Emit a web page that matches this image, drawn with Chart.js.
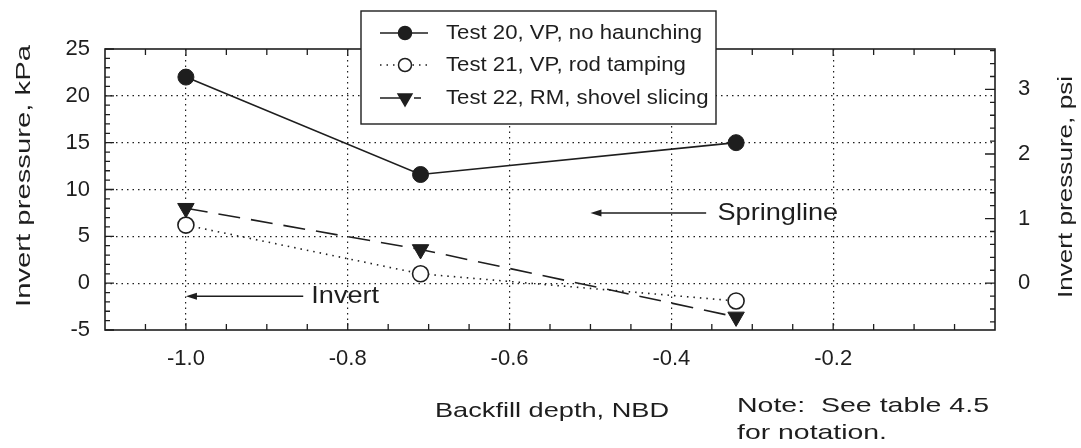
<!DOCTYPE html>
<html><head><meta charset="utf-8">
<script src="https://cdn.jsdelivr.net/npm/chart.js@4.4.0/dist/chart.umd.min.js"></script>
<style>html,body{margin:0;padding:0;background:#fff;}canvas{display:block;}</style>
</head><body>
<canvas id="c" width="1081" height="448"></canvas>
<script>
// ---- data ----
const seriesNames = ['Test 20, VP, no haunching', 'Test 21, VP, rod tamping', 'Test 22, RM, shovel slicing'];
const depth  = [-1.0, -0.71, -0.32];
const test20 = [22.0, 11.6, 15.0];
const test21 = [6.2, 1.0, -1.9];
const test22 = [8.0, 3.6, -3.6];
const xTicks  = [-1.0, -0.8, -0.6, -0.4, -0.2];
const yTicks  = [-5, 0, 5, 10, 15, 20, 25];
const y2Ticks = [0, 1, 2, 3];
const KPA_PER_PSI = 6.895;
const xTitle  = 'Backfill depth, NBD';
const yTitle  = 'Invert pressure, kPa';
const y2Title = 'Invert pressure, psi';
const noteLines = ['Note:  See table 4.5', 'for notation.'];
const callouts = [
  { text: 'Springline', tip: [-0.50, 7.5], tail: [-0.357, 7.5], textX: -0.343 },
  { text: 'Invert',     tip: [-1.00, -1.4], tail: [-0.855, -1.4], textX: -0.845 }
];

const INK = '#1e1e1e';
const FAM = '"Liberation Sans", Arial, Helvetica, sans-serif';

function sText(ctx, txt, x, y, size, opt) {
  opt = opt || {};
  ctx.save();
  ctx.font = size + 'px ' + FAM;
  const w = ctx.measureText(txt).width;
  const sx = opt.width ? opt.width / w : (opt.stretch || 1);
  ctx.translate(x, y);
  if (opt.rot) ctx.rotate(opt.rot);
  ctx.scale(sx, 1);
  ctx.textAlign = opt.align || 'left';
  ctx.textBaseline = 'middle';
  ctx.fillStyle = INK;
  ctx.fillText(txt, 0, 0);
  ctx.restore();
}

function drawMarker(ctx, style, x, y, r, fill) {
  ctx.save();
  ctx.beginPath();
  if (style === 'triangle') {
    ctx.moveTo(x, y + r);
    ctx.lineTo(x - r * 0.866, y - r / 2);
    ctx.lineTo(x + r * 0.866, y - r / 2);
    ctx.closePath();
  } else {
    ctx.arc(x, y, r, 0, Math.PI * 2);
  }
  ctx.fillStyle = fill;
  ctx.fill();
  ctx.lineWidth = 1.5;
  ctx.strokeStyle = INK;
  ctx.stroke();
  ctx.restore();
}

const decor = {
  id: 'decor',
  afterDatasetsDraw(chart) {
    const ctx = chart.ctx, ca = chart.chartArea;
    const sx = chart.scales.x, sy = chart.scales.y, sy2 = chart.scales.y2;
    ctx.save();
    ctx.strokeStyle = INK;
    // frame
    ctx.lineWidth = 1.6;
    ctx.strokeRect(ca.left, ca.top, ca.right - ca.left, ca.bottom - ca.top);
    // inward ticks
    ctx.lineWidth = 1.3;
    ctx.beginPath();
    for (let i = -5; i <= 25; i++) {
      const p = sy.getPixelForValue(i);
      const len = (i % 5 === 0) ? 9 : 5;
      ctx.moveTo(ca.left, p); ctx.lineTo(ca.left + len, p);
    }
    for (let i = -3; i <= 18; i++) {
      const p = sy2.getPixelForValue(i * 0.2);
      const len = (i % 5 === 0) ? 10 : 5;
      ctx.moveTo(ca.right, p); ctx.lineTo(ca.right - len, p);
    }
    for (let i = -21; i <= -1; i++) {
      const p = sx.getPixelForValue(i * 0.05);
      const len = (i % 4 === 0) ? 7 : 6;
      ctx.moveTo(p, ca.bottom); ctx.lineTo(p, ca.bottom - len);
      ctx.moveTo(p, ca.top); ctx.lineTo(p, ca.top + len);
    }
    ctx.stroke();
    // callouts
    callouts.forEach(c => {
      const tx = sx.getPixelForValue(c.tip[0]), ty = sy.getPixelForValue(c.tip[1]);
      const ex = sx.getPixelForValue(c.tail[0]);
      ctx.lineWidth = 1.5;
      ctx.beginPath(); ctx.moveTo(tx + 6, ty); ctx.lineTo(ex, ty); ctx.stroke();
      ctx.beginPath();
      ctx.moveTo(tx, ty); ctx.lineTo(tx + 11, ty - 3.5); ctx.lineTo(tx + 11, ty + 3.5); ctx.closePath();
      ctx.fillStyle = INK; ctx.fill();
      sText(ctx, c.text, sx.getPixelForValue(c.textX), ty, 24, { stretch: 1.13 });
    });
    ctx.restore();
  },
  afterDraw(chart) {
    const ctx = chart.ctx;
    // axis titles and note
    sText(ctx, yTitle, 24, 176, 20, { width: 262, rot: -Math.PI / 2, align: 'center' });
    sText(ctx, y2Title, 1066, 187, 20, { width: 222, rot: -Math.PI / 2, align: 'center' });
    sText(ctx, xTitle, 435, 411, 21, { width: 234 });
    sText(ctx, noteLines[0], 737, 406, 21, { width: 252 });
    sText(ctx, noteLines[1], 737, 433, 21, { width: 150 });
    // legend box
    const bx = 361, by = 11, bw = 355, bh = 113;
    ctx.save();
    ctx.fillStyle = '#fff';
    ctx.fillRect(bx, by, bw, bh);
    ctx.strokeStyle = INK; ctx.lineWidth = 1.4;
    ctx.strokeRect(bx, by, bw, bh);
    const rowsY = [33, 65, 98];
    const ds = chart.data.datasets;
    ctx.font = '20px ' + FAM;
    const base = ctx.measureText(ds[0].label).width;
    const stretch = 256 / base;
    ds.forEach((d, i) => {
      const y = rowsY[i];
      ctx.save();
      ctx.strokeStyle = INK; ctx.lineWidth = 1.6;
      if (i === 2) ctx.setLineDash([20, 14, 7, 60]);
      else ctx.setLineDash(d.borderDash || []);
      ctx.beginPath(); ctx.moveTo(380, y); ctx.lineTo(428, y); ctx.stroke();
      ctx.restore();
      drawMarker(ctx, d.pointStyle, 405, y, i === 2 ? 8 : 6.5, d.pointBackgroundColor);
      sText(ctx, d.label, 446, y, 20, { stretch: stretch });
    });
    ctx.restore();
  }
};

const mk = arr => depth.map((x, i) => ({ x: x, y: arr[i] }));
const gridDash = [1.5, 4];
const tickFont = { family: FAM, size: 22 };

new Chart(document.getElementById('c'), {
  type: 'line',
  data: {
    datasets: [
      { label: seriesNames[0], data: mk(test20), borderColor: INK, borderWidth: 1.6,
        pointStyle: 'circle', pointRadius: 8, pointBackgroundColor: INK, pointBorderColor: INK, pointBorderWidth: 1 },
      { label: seriesNames[1], data: mk(test21), borderColor: INK, borderWidth: 1.6, borderDash: [1.5, 5],
        pointStyle: 'circle', pointRadius: 8, pointBackgroundColor: '#fff', pointBorderColor: INK, pointBorderWidth: 1.6 },
      { label: seriesNames[2], data: mk(test22), borderColor: INK, borderWidth: 1.6, borderDash: [22, 11],
        pointStyle: 'triangle', pointRotation: 180, pointRadius: 9.5, pointBackgroundColor: INK, pointBorderColor: INK, pointBorderWidth: 1 }
    ]
  },
  options: {
    responsive: false, animation: false, devicePixelRatio: 1,
    layout: { padding: { top: 49, left: 0, right: 0, bottom: 0 } },
    plugins: { legend: { display: false }, tooltip: { enabled: false } },
    elements: { line: { tension: 0 } },
    scales: {
      x: {
        type: 'linear', position: 'bottom', min: -1.1, max: 0,
        afterBuildTicks: s => { s.ticks = xTicks.map(v => ({ value: v })); },
        afterFit: s => { s.height = 118; },
        ticks: { callback: v => Number(v).toFixed(1), font: tickFont, color: INK, padding: 16, maxRotation: 0, autoSkip: false },
        grid: { color: INK, lineWidth: 1.2, drawTicks: false, borderDash: gridDash },
        border: { display: false, dash: gridDash }
      },
      y: {
        position: 'left', min: -5, max: 25,
        afterBuildTicks: s => { s.ticks = yTicks.map(v => ({ value: v })); },
        afterFit: s => { s.width = 105; },
        ticks: { callback: v => String(v), font: tickFont, color: INK, padding: 15, autoSkip: false },
        grid: { color: c => (c.tick && (c.tick.value === -5 || c.tick.value === 25)) ? 'rgba(0,0,0,0)' : INK,
                lineWidth: 1.2, drawTicks: false, borderDash: gridDash },
        border: { display: false, dash: gridDash }
      },
      y2: {
        position: 'right', min: -5 / KPA_PER_PSI, max: 25 / KPA_PER_PSI,
        afterBuildTicks: s => { s.ticks = y2Ticks.map(v => ({ value: v })); },
        afterFit: s => { s.width = 86; },
        ticks: { callback: v => String(v), font: tickFont, color: INK, padding: 23, autoSkip: false },
        grid: { drawOnChartArea: false, drawTicks: false },
        border: { display: false }
      }
    }
  },
  plugins: [decor]
});
</script>
</body></html>
